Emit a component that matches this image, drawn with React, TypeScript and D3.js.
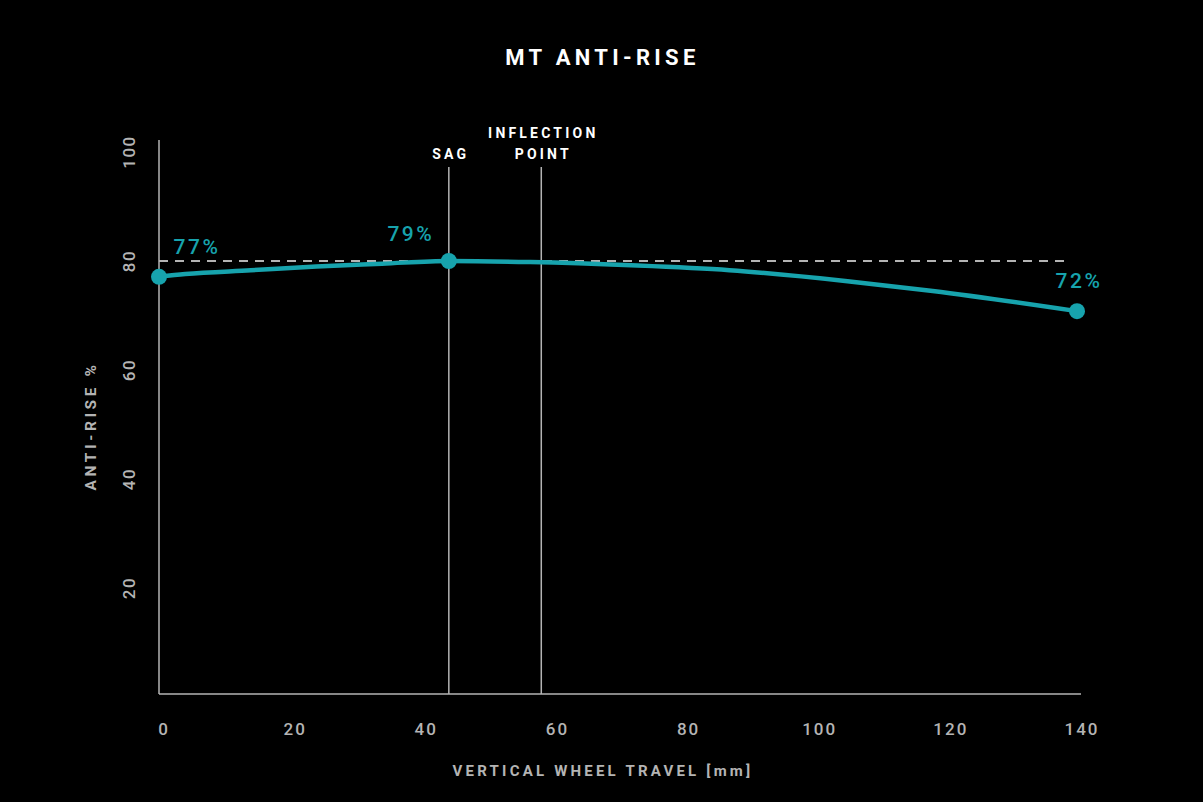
import React, { useEffect, useRef } from 'react';
import * as d3 from 'd3';

// curve samples: [travel mm, anti-rise %]
const travel = [0, 4, 14, 24, 34, 44.2, 56.6, 72, 87, 105, 118, 140];
const antiRise = [77.1, 77.6, 78.3, 79.0, 79.5, 80, 79.8, 79.2, 78.3, 76.3, 74.5, 70.8];

const markerTravel = [0, 44.2, 140];
const markerValue = [77.1, 80, 70.8];
const markerLabels = ['77%', '79%', '72%'];

const xTicks = [0, 20, 40, 60, 80, 100, 120, 140];
const yTicks = [20, 40, 60, 80, 100];

const sagTravel = 44.2;
const inflectionTravel = 58.3;
const referenceLevel = 80;

const W = 1203;
const H = 802;
const TEAL = '#17a3ad';
const GREY = '#b4b4b4';
const FONT = 'Roboto, "DejaVu Sans", sans-serif';

const App: React.FC = () => {
  const svgRef = useRef<SVGSVGElement>(null);

  useEffect(() => {
    if (!svgRef.current) return;
    const svg = d3.select(svgRef.current);
    svg.selectAll('*').remove();

    svg.append('rect').attr('width', W).attr('height', H).attr('fill', '#000');

    const x = d3.scaleLinear().domain([0, 140]).range([159, 1077]);
    const y = d3.scaleLinear().domain([0, 100]).range([697, 152]);
    const axisY = 694;

    // title
    svg.append('text')
      .attr('x', W / 2 + 1).attr('y', 65)
      .attr('text-anchor', 'middle')
      .attr('fill', '#fff').attr('font-family', FONT)
      .attr('font-weight', 700).attr('font-size', 22)
      .attr('letter-spacing', 4.3)
      .text('MT ANTI-RISE');

    // axes
    svg.append('line')
      .attr('x1', 159).attr('x2', 159).attr('y1', 140).attr('y2', axisY)
      .attr('stroke', GREY).attr('stroke-width', 1.5);
    svg.append('line')
      .attr('x1', 159).attr('x2', 1081).attr('y1', axisY).attr('y2', axisY)
      .attr('stroke', GREY).attr('stroke-width', 1.5);

    // x tick labels
    svg.append('g')
      .selectAll('text')
      .data(xTicks)
      .enter()
      .append('text')
      .attr('x', d => x(d) + 5)
      .attr('y', 735)
      .attr('text-anchor', 'middle')
      .attr('fill', GREY).attr('font-family', FONT)
      .attr('font-weight', 500)
      .attr('font-size', 17).attr('letter-spacing', 2)
      .text(d => d);

    // y tick labels (rotated)
    svg.append('g')
      .selectAll('text')
      .data(yTicks)
      .enter()
      .append('text')
      .attr('transform', d => `translate(135,${y(d)}) rotate(-90)`)
      .attr('text-anchor', 'middle')
      .attr('fill', GREY).attr('font-family', FONT)
      .attr('font-weight', 500)
      .attr('font-size', 17).attr('letter-spacing', 1.5)
      .text(d => d);

    // axis titles
    svg.append('text')
      .attr('x', 603).attr('y', 776)
      .attr('text-anchor', 'middle')
      .attr('fill', GREY).attr('font-family', FONT)
      .attr('font-weight', 700).attr('font-size', 15)
      .attr('letter-spacing', 3.2)
      .text('VERTICAL WHEEL TRAVEL [mm]');
    svg.append('text')
      .attr('transform', 'translate(96,426) rotate(-90)')
      .attr('text-anchor', 'middle')
      .attr('fill', GREY).attr('font-family', FONT)
      .attr('font-weight', 700).attr('font-size', 15.5)
      .attr('letter-spacing', 3.6)
      .text('ANTI-RISE %');

    // dashed reference line
    svg.append('line')
      .attr('x1', x(0)).attr('x2', 1067)
      .attr('y1', y(referenceLevel)).attr('y2', y(referenceLevel))
      .attr('stroke', GREY).attr('stroke-width', 2)
      .attr('stroke-dasharray', '9,7');

    // sag / inflection markers
    const vlines = [
      { t: sagTravel, lines: ['SAG'] },
      { t: inflectionTravel, lines: ['INFLECTION', 'POINT'] }
    ];
    vlines.forEach(v => {
      svg.append('line')
        .attr('x1', x(v.t)).attr('x2', x(v.t)).attr('y1', 167).attr('y2', axisY)
        .attr('stroke', GREY).attr('stroke-width', 1.5);
      v.lines.forEach((s, i) => {
        svg.append('text')
          .attr('x', x(v.t) + 2)
          .attr('y', 159 - (v.lines.length - 1 - i) * 21)
          .attr('text-anchor', 'middle')
          .attr('fill', '#fff').attr('font-family', FONT)
          .attr('font-weight', 700).attr('font-size', 14)
          .attr('letter-spacing', 3.2)
          .text(s);
      });
    });

    // curve
    const pts = travel.map((t, i) => [t, antiRise[i]] as [number, number]);
    const line = d3.line<[number, number]>()
      .x(d => x(d[0]))
      .y(d => y(d[1]))
      .curve(d3.curveMonotoneX);
    svg.append('path')
      .attr('d', line(pts)!)
      .attr('fill', 'none')
      .attr('stroke', TEAL).attr('stroke-width', 4.5)
      .attr('stroke-linecap', 'round');

    svg.append('g')
      .selectAll('circle')
      .data(markerTravel)
      .enter()
      .append('circle')
      .attr('cx', d => x(d))
      .attr('cy', (d, i) => y(markerValue[i]))
      .attr('r', 8)
      .attr('fill', TEAL);

    const labelOffset = [[38, -23], [-38, -20], [2, -23]];
    svg.append('g')
      .selectAll('text')
      .data(markerLabels)
      .enter()
      .append('text')
      .attr('x', (d, i) => x(markerTravel[i]) + labelOffset[i][0])
      .attr('y', (d, i) => y(markerValue[i]) + labelOffset[i][1])
      .attr('text-anchor', 'middle')
      .attr('fill', TEAL).attr('font-family', FONT)
      .attr('font-weight', 500).attr('font-size', 21)
      .attr('letter-spacing', 2.5)
      .text(d => d);
  }, []);

  return (
    <svg
      ref={svgRef}
      width={W}
      height={H}
      style={{ position: 'absolute', left: 0, top: 0, display: 'block' }}
    />
  );
};

export default App;
